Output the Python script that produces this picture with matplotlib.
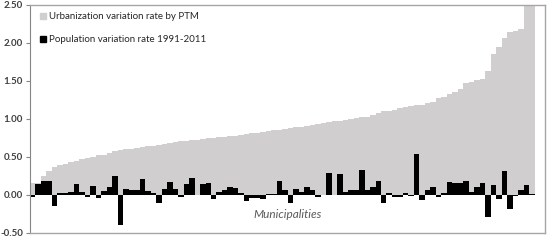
import numpy as np
import matplotlib
matplotlib.use("Agg")
import matplotlib.pyplot as plt
from matplotlib.patches import Patch

# urbanization variation rate by PTM (sorted), one value per municipality
urbanization = [0.16, 0.16, 0.25, 0.31, 0.37, 0.39, 0.41, 0.43, 0.45, 0.47,
                0.49, 0.50, 0.52, 0.53, 0.55, 0.58, 0.59, 0.60, 0.61, 0.62,
                0.63, 0.64, 0.65, 0.66, 0.67, 0.69, 0.70, 0.71, 0.71, 0.72,
                0.73, 0.74, 0.745, 0.75, 0.76, 0.765, 0.77, 0.78, 0.79, 0.80,
                0.81, 0.82, 0.83, 0.84, 0.85, 0.86, 0.87, 0.88, 0.89, 0.90,
                0.91, 0.92, 0.93, 0.95, 0.96, 0.97, 0.98, 0.99, 1.00, 1.01,
                1.02, 1.03, 1.05, 1.08, 1.10, 1.11, 1.12, 1.15, 1.16, 1.17,
                1.18, 1.19, 1.21, 1.23, 1.27, 1.29, 1.33, 1.36, 1.40, 1.47,
                1.49, 1.51, 1.53, 1.63, 1.86, 1.95, 2.06, 2.14, 2.16, 2.19,
                2.90, 3.00]

# population variation rate 1991-2011
population = [-0.02, 0.15, 0.18, 0.18, -0.15, 0.02, 0.03, 0.04, 0.14, 0.04,
              -0.02, 0.12, -0.04, 0.05, 0.10, 0.25, -0.40, 0.08, 0.06, 0.06,
              0.21, 0.05, 0.02, -0.11, 0.08, 0.17, 0.08, -0.02, 0.14, 0.23,
              0.00, 0.15, 0.16, -0.05, 0.04, 0.06, 0.11, 0.09, 0.02, -0.08,
              -0.035, -0.035, -0.05, 0.01, 0.01, 0.185, 0.06, -0.11, 0.075, 0.04,
              0.11, 0.07, -0.03, 0.00, 0.295, 0.00, 0.28, 0.045, 0.065, 0.065,
              0.33, 0.065, 0.11, 0.19, -0.10, 0.03, -0.02, -0.02, 0.03, -0.01,
              0.54, -0.06, 0.065, 0.10, -0.03, 0.03, 0.17, 0.155, 0.155, 0.185,
              0.045, 0.10, 0.155, -0.295, 0.13, -0.05, 0.32, -0.19, -0.01, 0.06,
              0.13, 0.01]

labels = ["Urbanization variation rate by PTM", "Population variation rate 1991-2011"]
yticks = [-0.5, 0.0, 0.5, 1.0, 1.5, 2.0, 2.5]

grey = "#d0cece"
plt.rcParams['font.family'] = ['Lato', 'DejaVu Sans']

fig = plt.figure(figsize=(5.5, 2.44), dpi=100)
ax = fig.add_axes([30/550, 11/244, 515/550, 228/244])

x = np.arange(len(urbanization))
ax.bar(x, urbanization, width=1.0, color=grey, linewidth=0)
ax.bar(x, population, width=1.0, color="black", linewidth=0)

ax.set_xlim(-0.5, 93.4)
ax.set_ylim(-0.5, 2.5)
ax.set_yticks(yticks)
ax.set_yticklabels(["%.2f" % v for v in yticks], fontsize=7, fontweight="bold", color="#404040")
ax.set_xticks([])
ax.tick_params(axis="y", length=3, width=0.8, color="#868686", pad=2)

for s in ["top", "right", "bottom"]:
    ax.spines[s].set_color("#a6a6a6")
    ax.spines[s].set_linewidth(1.0)
ax.spines["left"].set_color("#868686")
ax.spines["left"].set_linewidth(0.8)

handles = [Patch(color=grey), Patch(color="black")]
ax.legend(handles, labels, loc="upper left", bbox_to_anchor=(0.005, 1.0),
          frameon=False, fontsize=7, handlelength=0.6, handleheight=0.6,
          handletextpad=0.35, labelspacing=1.45, borderaxespad=0.35,
          labelcolor="#262626")

ax.text(0.5, 0.08, "Municipalities", transform=ax.transAxes, ha="center",
        va="center", fontsize=8.5, style="italic", color="#595959")

fig.savefig("out.png", dpi=100)
